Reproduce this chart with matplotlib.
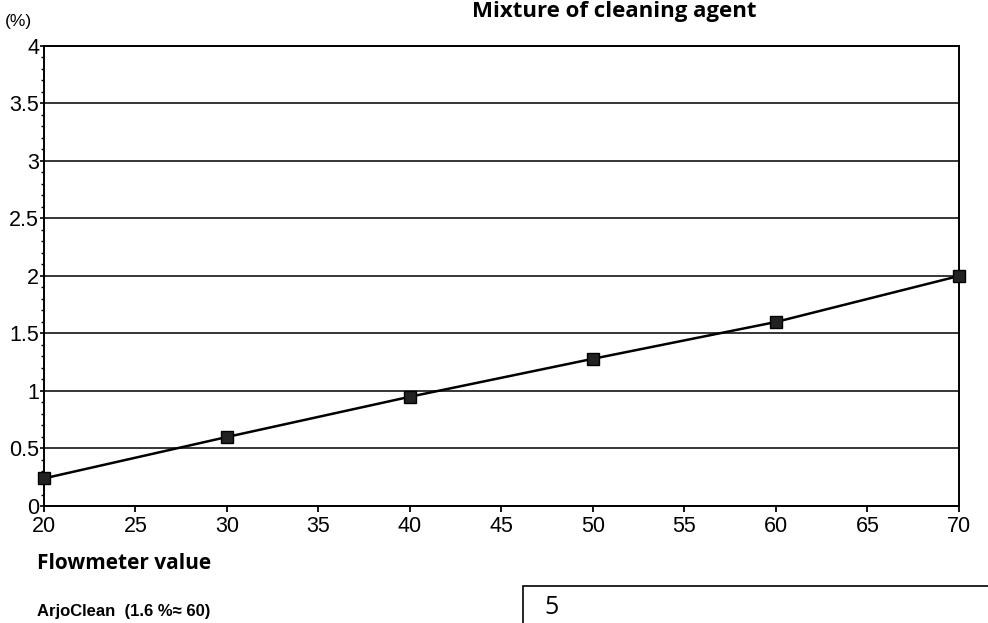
import matplotlib.pyplot as plt
from matplotlib.patches import Rectangle
from matplotlib.ticker import MultipleLocator

# flowmeter value vs cleaning agent mixture (%)
flow = [20, 30, 40, 50, 60, 70]
mixture = [0.24, 0.6, 0.95, 1.28, 1.6, 2.0]

x_ticks = [20, 25, 30, 35, 40, 45, 50, 55, 60, 65, 70]
y_ticks = [0, 0.5, 1, 1.5, 2, 2.5, 3, 3.5, 4]
y_labels = ['0', '0.5', '1', '1.5', '2', '2.5', '3', '3.5', '4']

fig = plt.figure(figsize=(9.88, 6.23), dpi=100)
ax = fig.add_axes([0.0445, 0.1878, 0.926, 0.7384])

ax.plot(flow, mixture, color='black', lw=1.8, marker='s', ms=9,
        mfc='#222222', mec='black', zorder=3, clip_on=False)

ax.set_xlim(20, 70)
ax.set_ylim(0, 4)
ax.set_xticks(x_ticks)
ax.set_yticks(y_ticks)
ax.set_yticklabels(y_labels)
ax.yaxis.set_minor_locator(MultipleLocator(0.1))
ax.grid(axis='y', color='black', lw=1.1)
ax.set_axisbelow(True)

for s in ax.spines.values():
    s.set_linewidth(1.4)
    s.set_color('black')

ax.tick_params(axis='x', direction='out', length=4, width=1.3, pad=3,
               labelsize=15.5)
ax.tick_params(axis='y', which='major', direction='out', length=3, width=1.2,
               pad=0.5, labelsize=15.5)
ax.tick_params(axis='y', which='minor', direction='out', length=2, width=1)
for lab in ax.get_xticklabels() + ax.get_yticklabels():
    lab.set_family('Liberation Sans')

fig.text(0.005, 0.965, '(%)', fontsize=12.5, family='Liberation Sans',
         ha='left', va='center')
fig.text(0.478, 0.999, 'Mixture of cleaning agent', fontsize=16,
         weight='bold', family='Open Sans', ha='left', va='top')
fig.text(0.037, 0.095, 'Flowmeter value', fontsize=15, weight='bold',
         family='Open Sans', ha='left', va='center')
fig.text(0.037, 0.018, 'ArjoClean  (1.6 %\u2248 60)', fontsize=12,
         weight='bold', family='Liberation Sans', ha='left', va='center')

box = Rectangle((0.5295, -0.1), 0.6, 0.159, transform=fig.transFigure,
                fill=False, ec='black', lw=1.2)
fig.patches.append(box)
fig.text(0.551, 0.005, '5', fontsize=18, family='Open Sans',
         ha='left', va='bottom')

fig.savefig('out.png', dpi=100)
